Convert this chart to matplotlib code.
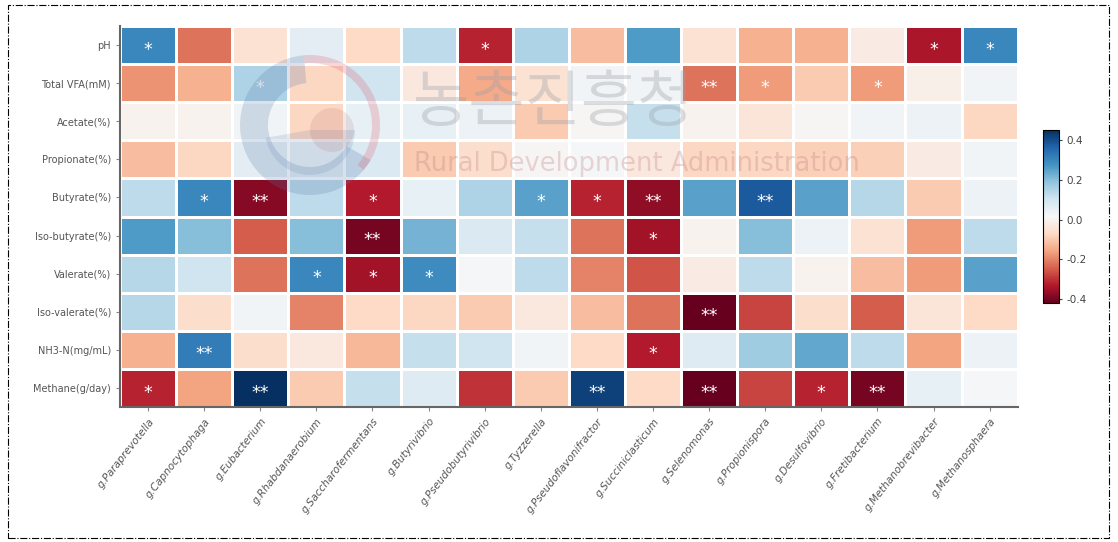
import matplotlib.pyplot as plt
from matplotlib.patches import Rectangle, Wedge, Circle
import numpy as np

# Ortam parametreleri (satirlar) ve cinsler (sutunlar)
params = ['pH', 'Total VFA(mM)', 'Acetate(%)', 'Propionate(%)', 'Butyrate(%)',
          'Iso-butyrate(%)', 'Valerate(%)', 'Iso-valerate(%)', 'NH3-N(mg/mL)',
          'Methane(g/day)']
genera = ['g.Paraprevotella', 'g.Capnocytophaga', 'g.Eubacterium', 'g.Rhabdanaerobium',
          'g.Saccharofermentans', 'g.Butyrivibrio', 'g.Pseudobutyrivibrio', 'g.Tyzzerella',
          'g.Pseudoflavonifractor', 'g.Succiniclasticum', 'g.Selenomonas', 'g.Propionispora',
          'g.Desulfovibrio', 'g.Fretibacterium', 'g.Methanobrevibacter', 'g.Methanosphaera']

ph = [0.30, -0.22, -0.05, 0.06, -0.07, 0.13, -0.32, 0.15, -0.12, 0.26, -0.05, -0.14, -0.14, -0.02, -0.34, 0.30]
total_vfa = [-0.18, -0.14, 0.15, -0.08, 0.10, -0.03, -0.15, -0.05, 0.03, 0.03, -0.22, -0.17, -0.10, -0.17, -0.01, 0.03]
acetate = [0.0, 0.0, 0.03, -0.08, 0.05, 0.05, 0.04, -0.10, 0.01, 0.12, 0.0, -0.04, 0.01, 0.03, 0.04, -0.08]
propionate = [-0.12, -0.08, 0.06, 0.05, 0.08, -0.10, -0.06, 0.01, 0.02, -0.03, -0.08, -0.08, -0.09, -0.09, -0.02, 0.03]
butyrate = [0.13, 0.30, -0.38, 0.13, -0.33, 0.05, 0.15, 0.25, -0.32, -0.37, 0.25, 0.38, 0.25, 0.14, -0.10, 0.04]
iso_butyrate = [0.26, 0.20, -0.25, 0.20, -0.40, 0.22, 0.08, 0.12, -0.22, -0.35, 0.0, 0.20, 0.04, -0.05, -0.17, 0.13]
valerate = [0.14, 0.10, -0.22, 0.30, -0.35, 0.29, 0.02, 0.13, -0.20, -0.26, -0.02, 0.13, 0.0, -0.12, -0.17, 0.25]
iso_valerate = [0.14, -0.06, 0.03, -0.20, -0.07, -0.08, -0.10, -0.03, -0.12, -0.22, -0.42, -0.28, -0.06, -0.25, -0.04, -0.07]
nh3n = [-0.14, 0.32, -0.06, -0.03, -0.13, 0.12, 0.10, 0.03, -0.07, -0.33, 0.07, 0.17, 0.24, 0.13, -0.16, 0.04]
methane = [-0.32, -0.16, 0.45, -0.10, 0.12, 0.07, -0.30, -0.10, 0.42, -0.07, -0.42, -0.28, -0.32, -0.40, 0.05, 0.02]

# anlamlilik isaretleri
sig = [
    ['*', '', '', '', '', '', '*', '', '', '', '', '', '', '', '*', '*'],
    ['', '', '*', '', '', '', '', '', '', '', '**', '*', '', '*', '', ''],
    [''] * 16,
    [''] * 16,
    ['', '*', '**', '', '*', '', '', '*', '*', '**', '', '**', '', '', '', ''],
    ['', '', '', '', '**', '', '', '', '', '*', '', '', '', '', '', ''],
    ['', '', '', '*', '*', '*', '', '', '', '', '', '', '', '', '', ''],
    ['', '', '', '', '', '', '', '', '', '', '**', '', '', '', '', ''],
    ['', '**', '', '', '', '', '', '', '', '*', '', '', '', '', '', ''],
    ['*', '', '**', '', '', '', '', '', '**', '', '**', '', '*', '**', '', ''],
]

data = np.array([ph, total_vfa, acetate, propionate, butyrate, iso_butyrate,
                 valerate, iso_valerate, nh3n, methane])

fig = plt.figure(figsize=(11.18, 5.42), dpi=100)
ax = fig.add_axes([0.1073, 0.249, 0.803, 0.703])
mesh = ax.pcolormesh(data, cmap='RdBu', vmin=-0.42, vmax=0.45,
                     edgecolors='white', linewidth=1.0)
ax.set_xlim(0, data.shape[1])
ax.set_ylim(data.shape[0], 0)

for i in range(data.shape[0]):
    for j in range(data.shape[1]):
        if sig[i][j]:
            ax.text(j + 0.5, i + 0.62, sig[i][j], ha='center', va='center',
                    color='white', fontsize=12.5)

ax.set_xticks(np.arange(len(genera)) + 0.5)
ax.set_xticklabels(genera, rotation=52, ha='right', rotation_mode='anchor',
                   fontsize=7.5, style='italic', color='#555555')
ax.set_yticks(np.arange(len(params)) + 0.5)
ax.set_yticklabels(params, fontsize=7, color='#555555')
ax.tick_params(length=3, color='#888888')
for side in ['top', 'right']:
    ax.spines[side].set_visible(False)
for side in ['left', 'bottom']:
    ax.spines[side].set_color('#666666')
    ax.spines[side].set_linewidth(1.5)

# filigran (logo + yazi)
lax = fig.add_axes([230 / 1118, 1 - 205 / 542, 160 / 1118, 160 / 542])
lax.set_xlim(-80, 80)
lax.set_ylim(-80, 80)
lax.axis('off')
lax.add_patch(Wedge((0, 0), 70, 95, 330, width=28, color='#5577aa', alpha=0.22, lw=0))
lax.add_patch(Wedge((0, 0), 70, -40, 95, width=8, color='#e06070', alpha=0.25, lw=0))
lax.add_patch(Wedge((0, -5), 45, 190, 360, color='#5577aa', alpha=0.16, lw=0))
lax.add_patch(Circle((22, -5), 22, color='#b06060', alpha=0.15, lw=0))

fig.text(0.495, 0.808, '농촌진흥청', fontsize=44, color='#9aa0a8', alpha=0.35,
         ha='center', va='center', family=['Noto Sans CJK KR', 'DejaVu Sans'])
fig.text(0.57, 0.698, 'Rural Development Administration', fontsize=18.5,
         color='#c08080', alpha=0.3, ha='center', va='center')

cax = fig.add_axes([0.933, 0.441, 0.0143, 0.319])
cb = fig.colorbar(mesh, cax=cax, ticks=[0.4, 0.2, 0.0, -0.2, -0.4])
cb.ax.set_yticklabels(['0.4', '0.2', '0.0', '-0.2', '-0.4'])
cb.ax.tick_params(labelsize=7.5, length=2, colors='#444444')
cb.outline.set_linewidth(0.8)

# dis cerceve
fig.patches.append(Rectangle((0.007, 0.008), 0.985, 0.982, transform=fig.transFigure,
                             fill=False, linestyle='-.', linewidth=0.8, color='black'))

plt.savefig('out.png', dpi=100)
plt.close()
